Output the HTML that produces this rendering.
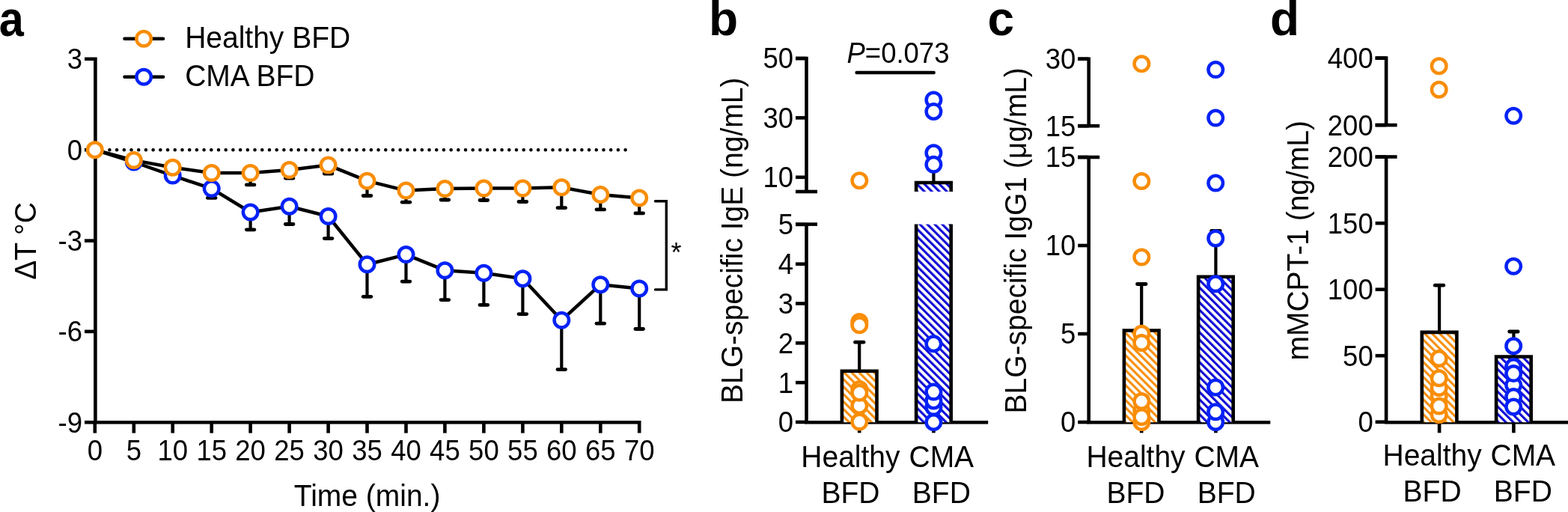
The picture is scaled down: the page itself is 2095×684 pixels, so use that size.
<!DOCTYPE html>
<html><head><meta charset="utf-8"><title>Figure</title>
<style>html,body{margin:0;padding:0;background:#fff;} svg{display:block;} text{font-family:"Liberation Sans",Arial,sans-serif;fill:#000;}</style>
</head><body>
<svg width="2095" height="684" viewBox="0 0 2095 684">
<defs>
<pattern id="ho" patternUnits="userSpaceOnUse" width="7.05" height="7.05" patternTransform="rotate(-45)">
<rect x="0" y="0" width="7.05" height="7.05" fill="#fff"/><rect x="0" y="0" width="3.1" height="7.05" fill="#f98d06"/></pattern>
<pattern id="hb" patternUnits="userSpaceOnUse" width="7.05" height="7.05" patternTransform="rotate(-45)">
<rect x="0" y="0" width="7.05" height="7.05" fill="#fff"/><rect x="0" y="0" width="3.1" height="7.05" fill="#0d07d6"/></pattern>
</defs>
<rect width="2095" height="684" fill="#fff"/>
<line x1="146.4" y1="200.2" x2="845.3" y2="200.2" stroke="#000" stroke-width="4.6" stroke-linecap="round" stroke-dasharray="0 9.707"/>
<path d="M113 78.8 H127.4 V564.2 H854.2 V578.6" fill="none" stroke="#000" stroke-width="4.6"/>
<line x1="113" y1="200.2" x2="127.4" y2="200.2" stroke="#000" stroke-width="4.6"/>
<line x1="113" y1="321.6" x2="127.4" y2="321.6" stroke="#000" stroke-width="4.6"/>
<line x1="113" y1="442.9" x2="127.4" y2="442.9" stroke="#000" stroke-width="4.6"/>
<line x1="113" y1="564.2" x2="127.4" y2="564.2" stroke="#000" stroke-width="4.6"/>
<line x1="126.8" y1="564.2" x2="126.8" y2="578.6" stroke="#000" stroke-width="4.6"/>
<line x1="178.8" y1="564.2" x2="178.8" y2="578.6" stroke="#000" stroke-width="4.6"/>
<line x1="230.7" y1="564.2" x2="230.7" y2="578.6" stroke="#000" stroke-width="4.6"/>
<line x1="282.7" y1="564.2" x2="282.7" y2="578.6" stroke="#000" stroke-width="4.6"/>
<line x1="334.6" y1="564.2" x2="334.6" y2="578.6" stroke="#000" stroke-width="4.6"/>
<line x1="386.6" y1="564.2" x2="386.6" y2="578.6" stroke="#000" stroke-width="4.6"/>
<line x1="438.6" y1="564.2" x2="438.6" y2="578.6" stroke="#000" stroke-width="4.6"/>
<line x1="490.5" y1="564.2" x2="490.5" y2="578.6" stroke="#000" stroke-width="4.6"/>
<line x1="542.5" y1="564.2" x2="542.5" y2="578.6" stroke="#000" stroke-width="4.6"/>
<line x1="594.4" y1="564.2" x2="594.4" y2="578.6" stroke="#000" stroke-width="4.6"/>
<line x1="646.4" y1="564.2" x2="646.4" y2="578.6" stroke="#000" stroke-width="4.6"/>
<line x1="698.4" y1="564.2" x2="698.4" y2="578.6" stroke="#000" stroke-width="4.6"/>
<line x1="750.3" y1="564.2" x2="750.3" y2="578.6" stroke="#000" stroke-width="4.6"/>
<line x1="802.3" y1="564.2" x2="802.3" y2="578.6" stroke="#000" stroke-width="4.6"/>
<text transform="translate(110.0 92.2) scale(1 1.04)" font-size="36.5" text-anchor="end" >3</text>
<text transform="translate(110.0 213.6) scale(1 1.04)" font-size="36.5" text-anchor="end" >0</text>
<text transform="translate(110.0 334.9) scale(1 1.04)" font-size="36.5" text-anchor="end" >-3</text>
<text transform="translate(110.0 456.3) scale(1 1.04)" font-size="36.5" text-anchor="end" >-6</text>
<text transform="translate(110.0 577.6) scale(1 1.04)" font-size="36.5" text-anchor="end" >-9</text>
<text transform="translate(126.8 614.8) scale(1 1.04)" font-size="36.5" text-anchor="middle" >0</text>
<text transform="translate(178.8 614.8) scale(1 1.04)" font-size="36.5" text-anchor="middle" >5</text>
<text transform="translate(230.7 614.8) scale(1 1.04)" font-size="36.5" text-anchor="middle" >10</text>
<text transform="translate(282.7 614.8) scale(1 1.04)" font-size="36.5" text-anchor="middle" >15</text>
<text transform="translate(334.6 614.8) scale(1 1.04)" font-size="36.5" text-anchor="middle" >20</text>
<text transform="translate(386.6 614.8) scale(1 1.04)" font-size="36.5" text-anchor="middle" >25</text>
<text transform="translate(438.6 614.8) scale(1 1.04)" font-size="36.5" text-anchor="middle" >30</text>
<text transform="translate(490.5 614.8) scale(1 1.04)" font-size="36.5" text-anchor="middle" >35</text>
<text transform="translate(542.5 614.8) scale(1 1.04)" font-size="36.5" text-anchor="middle" >40</text>
<text transform="translate(594.4 614.8) scale(1 1.04)" font-size="36.5" text-anchor="middle" >45</text>
<text transform="translate(646.4 614.8) scale(1 1.04)" font-size="36.5" text-anchor="middle" >50</text>
<text transform="translate(698.4 614.8) scale(1 1.04)" font-size="36.5" text-anchor="middle" >55</text>
<text transform="translate(750.3 614.8) scale(1 1.04)" font-size="36.5" text-anchor="middle" >60</text>
<text transform="translate(802.3 614.8) scale(1 1.04)" font-size="36.5" text-anchor="middle" >65</text>
<text transform="translate(854.2 614.8) scale(1 1.04)" font-size="36.5" text-anchor="middle" >70</text>
<line x1="282.7" y1="251.9" x2="282.7" y2="264.4" stroke="#000" stroke-width="4.2"/>
<line x1="277.4" y1="264.4" x2="288.0" y2="264.4" stroke="#000" stroke-width="4.8" stroke-linecap="round"/>
<line x1="334.6" y1="283.5" x2="334.6" y2="306.8" stroke="#000" stroke-width="4.2"/>
<line x1="329.3" y1="306.8" x2="339.9" y2="306.8" stroke="#000" stroke-width="4.8" stroke-linecap="round"/>
<line x1="386.6" y1="275.8" x2="386.6" y2="299.5" stroke="#000" stroke-width="4.2"/>
<line x1="381.3" y1="299.5" x2="391.9" y2="299.5" stroke="#000" stroke-width="4.8" stroke-linecap="round"/>
<line x1="438.6" y1="289.0" x2="438.6" y2="318.6" stroke="#000" stroke-width="4.2"/>
<line x1="433.3" y1="318.6" x2="443.9" y2="318.6" stroke="#000" stroke-width="4.8" stroke-linecap="round"/>
<line x1="490.5" y1="353.3" x2="490.5" y2="396.3" stroke="#000" stroke-width="4.2"/>
<line x1="485.2" y1="396.3" x2="495.8" y2="396.3" stroke="#000" stroke-width="4.8" stroke-linecap="round"/>
<line x1="542.5" y1="340.1" x2="542.5" y2="376.1" stroke="#000" stroke-width="4.2"/>
<line x1="537.2" y1="376.1" x2="547.8" y2="376.1" stroke="#000" stroke-width="4.8" stroke-linecap="round"/>
<line x1="594.4" y1="361.2" x2="594.4" y2="400.6" stroke="#000" stroke-width="4.2"/>
<line x1="589.1" y1="400.6" x2="599.7" y2="400.6" stroke="#000" stroke-width="4.8" stroke-linecap="round"/>
<line x1="646.4" y1="364.7" x2="646.4" y2="407.4" stroke="#000" stroke-width="4.2"/>
<line x1="641.1" y1="407.4" x2="651.7" y2="407.4" stroke="#000" stroke-width="4.8" stroke-linecap="round"/>
<line x1="698.4" y1="372.3" x2="698.4" y2="419.6" stroke="#000" stroke-width="4.2"/>
<line x1="693.1" y1="419.6" x2="703.7" y2="419.6" stroke="#000" stroke-width="4.8" stroke-linecap="round"/>
<line x1="750.3" y1="427.8" x2="750.3" y2="493.6" stroke="#000" stroke-width="4.2"/>
<line x1="745.0" y1="493.6" x2="755.6" y2="493.6" stroke="#000" stroke-width="4.8" stroke-linecap="round"/>
<line x1="802.3" y1="380.2" x2="802.3" y2="432.2" stroke="#000" stroke-width="4.2"/>
<line x1="797.0" y1="432.2" x2="807.6" y2="432.2" stroke="#000" stroke-width="4.8" stroke-linecap="round"/>
<line x1="854.2" y1="385.4" x2="854.2" y2="439.5" stroke="#000" stroke-width="4.2"/>
<line x1="848.9" y1="439.5" x2="859.5" y2="439.5" stroke="#000" stroke-width="4.8" stroke-linecap="round"/>
<line x1="334.6" y1="231.1" x2="334.6" y2="246.9" stroke="#000" stroke-width="4.2"/>
<line x1="329.3" y1="246.9" x2="339.9" y2="246.9" stroke="#000" stroke-width="4.8" stroke-linecap="round"/>
<line x1="386.6" y1="227.1" x2="386.6" y2="238.1" stroke="#000" stroke-width="4.2"/>
<line x1="381.3" y1="238.1" x2="391.9" y2="238.1" stroke="#000" stroke-width="4.8" stroke-linecap="round"/>
<line x1="438.6" y1="220.6" x2="438.6" y2="232.0" stroke="#000" stroke-width="4.2"/>
<line x1="433.3" y1="232.0" x2="443.9" y2="232.0" stroke="#000" stroke-width="4.8" stroke-linecap="round"/>
<line x1="490.5" y1="241.7" x2="490.5" y2="261.5" stroke="#000" stroke-width="4.2"/>
<line x1="485.2" y1="261.5" x2="495.8" y2="261.5" stroke="#000" stroke-width="4.8" stroke-linecap="round"/>
<line x1="542.5" y1="254.6" x2="542.5" y2="270.2" stroke="#000" stroke-width="4.2"/>
<line x1="537.2" y1="270.2" x2="547.8" y2="270.2" stroke="#000" stroke-width="4.8" stroke-linecap="round"/>
<line x1="594.4" y1="252.1" x2="594.4" y2="267.0" stroke="#000" stroke-width="4.2"/>
<line x1="589.1" y1="267.0" x2="599.7" y2="267.0" stroke="#000" stroke-width="4.8" stroke-linecap="round"/>
<line x1="646.4" y1="251.6" x2="646.4" y2="267.5" stroke="#000" stroke-width="4.2"/>
<line x1="641.1" y1="267.5" x2="651.7" y2="267.5" stroke="#000" stroke-width="4.8" stroke-linecap="round"/>
<line x1="698.4" y1="251.6" x2="698.4" y2="269.5" stroke="#000" stroke-width="4.2"/>
<line x1="693.1" y1="269.5" x2="703.7" y2="269.5" stroke="#000" stroke-width="4.8" stroke-linecap="round"/>
<line x1="750.3" y1="250.3" x2="750.3" y2="277.7" stroke="#000" stroke-width="4.2"/>
<line x1="745.0" y1="277.7" x2="755.6" y2="277.7" stroke="#000" stroke-width="4.8" stroke-linecap="round"/>
<line x1="802.3" y1="260.0" x2="802.3" y2="279.9" stroke="#000" stroke-width="4.2"/>
<line x1="797.0" y1="279.9" x2="807.6" y2="279.9" stroke="#000" stroke-width="4.8" stroke-linecap="round"/>
<line x1="854.2" y1="264.5" x2="854.2" y2="284.9" stroke="#000" stroke-width="4.2"/>
<line x1="848.9" y1="284.9" x2="859.5" y2="284.9" stroke="#000" stroke-width="4.8" stroke-linecap="round"/>
<polyline points="126.8,200.2 178.8,216.5 230.7,234.6 282.7,251.9 334.6,283.5 386.6,275.8 438.6,289.0 490.5,353.3 542.5,340.1 594.4,361.2 646.4,364.7 698.4,372.3 750.3,427.8 802.3,380.2 854.2,385.4" fill="none" stroke="#000" stroke-width="4.5" stroke-linejoin="round"/>
<polyline points="126.8,200.2 178.8,214.1 230.7,223.7 282.7,231.1 334.6,231.1 386.6,227.1 438.6,220.6 490.5,241.7 542.5,254.6 594.4,252.1 646.4,251.6 698.4,251.6 750.3,250.3 802.3,260.0 854.2,264.5" fill="none" stroke="#000" stroke-width="4.5" stroke-linejoin="round"/>
<circle cx="178.8" cy="216.5" r="9.75" fill="#fff" stroke="#0522f7" stroke-width="4.5"/>
<circle cx="230.7" cy="234.6" r="9.75" fill="#fff" stroke="#0522f7" stroke-width="4.5"/>
<circle cx="282.7" cy="251.9" r="9.75" fill="#fff" stroke="#0522f7" stroke-width="4.5"/>
<circle cx="334.6" cy="283.5" r="9.75" fill="#fff" stroke="#0522f7" stroke-width="4.5"/>
<circle cx="386.6" cy="275.8" r="9.75" fill="#fff" stroke="#0522f7" stroke-width="4.5"/>
<circle cx="438.6" cy="289.0" r="9.75" fill="#fff" stroke="#0522f7" stroke-width="4.5"/>
<circle cx="490.5" cy="353.3" r="9.75" fill="#fff" stroke="#0522f7" stroke-width="4.5"/>
<circle cx="542.5" cy="340.1" r="9.75" fill="#fff" stroke="#0522f7" stroke-width="4.5"/>
<circle cx="594.4" cy="361.2" r="9.75" fill="#fff" stroke="#0522f7" stroke-width="4.5"/>
<circle cx="646.4" cy="364.7" r="9.75" fill="#fff" stroke="#0522f7" stroke-width="4.5"/>
<circle cx="698.4" cy="372.3" r="9.75" fill="#fff" stroke="#0522f7" stroke-width="4.5"/>
<circle cx="750.3" cy="427.8" r="9.75" fill="#fff" stroke="#0522f7" stroke-width="4.5"/>
<circle cx="802.3" cy="380.2" r="9.75" fill="#fff" stroke="#0522f7" stroke-width="4.5"/>
<circle cx="854.2" cy="385.4" r="9.75" fill="#fff" stroke="#0522f7" stroke-width="4.5"/>
<circle cx="126.8" cy="200.2" r="9.75" fill="#fff" stroke="#f98d06" stroke-width="4.5"/>
<circle cx="178.8" cy="214.1" r="9.75" fill="#fff" stroke="#f98d06" stroke-width="4.5"/>
<circle cx="230.7" cy="223.7" r="9.75" fill="#fff" stroke="#f98d06" stroke-width="4.5"/>
<circle cx="282.7" cy="231.1" r="9.75" fill="#fff" stroke="#f98d06" stroke-width="4.5"/>
<circle cx="334.6" cy="231.1" r="9.75" fill="#fff" stroke="#f98d06" stroke-width="4.5"/>
<circle cx="386.6" cy="227.1" r="9.75" fill="#fff" stroke="#f98d06" stroke-width="4.5"/>
<circle cx="438.6" cy="220.6" r="9.75" fill="#fff" stroke="#f98d06" stroke-width="4.5"/>
<circle cx="490.5" cy="241.7" r="9.75" fill="#fff" stroke="#f98d06" stroke-width="4.5"/>
<circle cx="542.5" cy="254.6" r="9.75" fill="#fff" stroke="#f98d06" stroke-width="4.5"/>
<circle cx="594.4" cy="252.1" r="9.75" fill="#fff" stroke="#f98d06" stroke-width="4.5"/>
<circle cx="646.4" cy="251.6" r="9.75" fill="#fff" stroke="#f98d06" stroke-width="4.5"/>
<circle cx="698.4" cy="251.6" r="9.75" fill="#fff" stroke="#f98d06" stroke-width="4.5"/>
<circle cx="750.3" cy="250.3" r="9.75" fill="#fff" stroke="#f98d06" stroke-width="4.5"/>
<circle cx="802.3" cy="260.0" r="9.75" fill="#fff" stroke="#f98d06" stroke-width="4.5"/>
<circle cx="854.2" cy="264.5" r="9.75" fill="#fff" stroke="#f98d06" stroke-width="4.5"/>
<path d="M875.5 268.8 H890.3 V386.9 H875.5" fill="none" stroke="#000" stroke-width="3.4" stroke-linecap="round"/>
<text transform="translate(896.5 350.0) scale(1 1.04)" font-size="36" text-anchor="start" >*</text>
<line x1="166.5" y1="51.7" x2="218" y2="51.7" stroke="#000" stroke-width="4.6" stroke-linecap="round"/>
<circle cx="192.1" cy="51.7" r="9.75" fill="#fff" stroke="#f98d06" stroke-width="4.5"/>
<text transform="translate(247.2 63.9) scale(1 1.04)" font-size="39" text-anchor="start" >Healthy BFD</text>
<line x1="166.5" y1="102.8" x2="218" y2="102.8" stroke="#000" stroke-width="4.6" stroke-linecap="round"/>
<circle cx="192.1" cy="102.8" r="9.75" fill="#fff" stroke="#0522f7" stroke-width="4.5"/>
<text transform="translate(247.2 115.0) scale(1 1.04)" font-size="39" text-anchor="start" >CMA BFD</text>
<text transform="translate(48.3 322) rotate(-90) scale(1 1.04)" font-size="39" text-anchor="middle">ΔT °C</text>
<text transform="translate(490.6 675.5) scale(1 1.04)" font-size="39" text-anchor="middle" >Time (min.)</text>
<text transform="translate(-1.2 47.6) scale(0.9 1)" font-size="66" font-weight="bold">a</text>
<text x="947" y="47.2" font-size="64" font-weight="bold">b</text>
<text x="1319.5" y="47.2" font-size="64" font-weight="bold">c</text>
<text x="1697" y="47.2" font-size="64" font-weight="bold">d</text>
<path d="M1063.0 78.0 H1077.5 V256.0" fill="none" stroke="#000" stroke-width="4.6"/>
<line x1="1063.0" y1="256.0" x2="1092.0" y2="256.0" stroke="#000" stroke-width="4.6"/>
<line x1="1063.0" y1="299.6" x2="1092.0" y2="299.6" stroke="#000" stroke-width="4.6"/>
<path d="M1077.5 299.6 V564.2 H1320.2" fill="none" stroke="#000" stroke-width="4.6"/>
<line x1="1063.0" y1="78.0" x2="1077.5" y2="78.0" stroke="#000" stroke-width="4.6"/>
<text transform="translate(1060.1 91.4) scale(1 1.04)" font-size="36.5" text-anchor="end" >50</text>
<line x1="1063.0" y1="157.4" x2="1077.5" y2="157.4" stroke="#000" stroke-width="4.6"/>
<text transform="translate(1060.1 170.8) scale(1 1.04)" font-size="36.5" text-anchor="end" >30</text>
<line x1="1063.0" y1="236.8" x2="1077.5" y2="236.8" stroke="#000" stroke-width="4.6"/>
<text transform="translate(1060.1 250.2) scale(1 1.04)" font-size="36.5" text-anchor="end" >10</text>
<line x1="1063.0" y1="299.9" x2="1077.5" y2="299.9" stroke="#000" stroke-width="4.6"/>
<text transform="translate(1060.1 313.3) scale(1 1.04)" font-size="36.5" text-anchor="end" >5</text>
<line x1="1063.0" y1="352.7" x2="1077.5" y2="352.7" stroke="#000" stroke-width="4.6"/>
<text transform="translate(1060.1 366.1) scale(1 1.04)" font-size="36.5" text-anchor="end" >4</text>
<line x1="1063.0" y1="405.5" x2="1077.5" y2="405.5" stroke="#000" stroke-width="4.6"/>
<text transform="translate(1060.1 418.9) scale(1 1.04)" font-size="36.5" text-anchor="end" >3</text>
<line x1="1063.0" y1="458.3" x2="1077.5" y2="458.3" stroke="#000" stroke-width="4.6"/>
<text transform="translate(1060.1 471.7) scale(1 1.04)" font-size="36.5" text-anchor="end" >2</text>
<line x1="1063.0" y1="511.1" x2="1077.5" y2="511.1" stroke="#000" stroke-width="4.6"/>
<text transform="translate(1060.1 524.5) scale(1 1.04)" font-size="36.5" text-anchor="end" >1</text>
<line x1="1063.0" y1="563.9" x2="1077.5" y2="563.9" stroke="#000" stroke-width="4.6"/>
<text transform="translate(1060.1 577.3) scale(1 1.04)" font-size="36.5" text-anchor="end" >0</text>
<line x1="1148.2" y1="564.2" x2="1148.2" y2="578.3" stroke="#000" stroke-width="4.6"/>
<rect x="1124.9" y="495.8" width="46.6" height="68.4" fill="url(#ho)"/>
<path d="M1124.9 564.2 V495.8 H1171.5 V564.2" fill="none" stroke="#000" stroke-width="4.6"/>
<line x1="1148.2" y1="495.8" x2="1148.2" y2="457.2" stroke="#000" stroke-width="4.2"/>
<line x1="1142.5" y1="457.2" x2="1154.0" y2="457.2" stroke="#000" stroke-width="4.8" stroke-linecap="round"/>
<line x1="1247.4" y1="564.2" x2="1247.4" y2="578.3" stroke="#000" stroke-width="4.6"/>
<rect x="1224.1" y="244.0" width="46.6" height="12.0" fill="url(#hb)"/>
<path d="M1224.1 256.0 V244.0 H1270.7 V256.0" fill="none" stroke="#000" stroke-width="4.6"/>
<rect x="1224.1" y="299.6" width="46.6" height="264.6" fill="url(#hb)"/>
<path d="M1224.1 299.6 V564.2" fill="none" stroke="#000" stroke-width="4.6"/>
<path d="M1270.7 299.6 V564.2" fill="none" stroke="#000" stroke-width="4.6"/>
<line x1="1247.4" y1="244.0" x2="1247.4" y2="226.0" stroke="#000" stroke-width="4.2"/>
<line x1="1241.7" y1="226.0" x2="1253.2" y2="226.0" stroke="#000" stroke-width="4.8" stroke-linecap="round"/>
<circle cx="1148.3" cy="241.2" r="9.75" fill="#fff" stroke="#f98d06" stroke-width="4.5"/>
<circle cx="1148.3" cy="430.0" r="9.75" fill="#fff" stroke="#f98d06" stroke-width="4.5"/>
<circle cx="1148.3" cy="434.2" r="9.75" fill="#fff" stroke="#f98d06" stroke-width="4.5"/>
<circle cx="1148.3" cy="563.6" r="9.75" fill="#fff" stroke="#f98d06" stroke-width="4.5"/>
<circle cx="1148.3" cy="542.0" r="9.75" fill="#fff" stroke="#f98d06" stroke-width="4.5"/>
<circle cx="1148.3" cy="520.0" r="9.75" fill="#fff" stroke="#f98d06" stroke-width="4.5"/>
<circle cx="1148.3" cy="524.7" r="9.75" fill="#fff" stroke="#f98d06" stroke-width="4.5"/>
<circle cx="1247.4" cy="564.0" r="9.75" fill="#fff" stroke="#0522f7" stroke-width="4.5"/>
<circle cx="1247.4" cy="544.1" r="9.75" fill="#fff" stroke="#0522f7" stroke-width="4.5"/>
<circle cx="1247.4" cy="535.4" r="9.75" fill="#fff" stroke="#0522f7" stroke-width="4.5"/>
<circle cx="1247.4" cy="523.6" r="9.75" fill="#fff" stroke="#0522f7" stroke-width="4.5"/>
<circle cx="1247.4" cy="459.3" r="9.75" fill="#fff" stroke="#0522f7" stroke-width="4.5"/>
<circle cx="1247.4" cy="204.2" r="9.75" fill="#fff" stroke="#0522f7" stroke-width="4.5"/>
<circle cx="1247.4" cy="219.8" r="9.75" fill="#fff" stroke="#0522f7" stroke-width="4.5"/>
<circle cx="1247.4" cy="133.4" r="9.75" fill="#fff" stroke="#0522f7" stroke-width="4.5"/>
<circle cx="1247.4" cy="148.9" r="9.75" fill="#fff" stroke="#0522f7" stroke-width="4.5"/>
<text transform="translate(991.6 321.3) rotate(-90) scale(1 1.04)" font-size="39" text-anchor="middle">BLG-specific IgE (ng/mL)</text>
<text transform="translate(1136.4 623.6) scale(1 1.04)" font-size="39" text-anchor="middle" >Healthy</text>
<text transform="translate(1136.4 672.0) scale(1 1.04)" font-size="39" text-anchor="middle" >BFD</text>
<text transform="translate(1257.8 623.6) scale(1 1.04)" font-size="39" text-anchor="middle" >CMA</text>
<text transform="translate(1257.8 672.0) scale(1 1.04)" font-size="39" text-anchor="middle" >BFD</text>
<text transform="translate(1131.5 83.6) scale(1 1.04)" font-size="36.5"><tspan font-style="italic">P</tspan>=0.073</text>
<line x1="1144.6" y1="97" x2="1247.7" y2="97" stroke="#000" stroke-width="4.4" stroke-linecap="round"/>
<path d="M1440.2 78.7 H1454.7 V168.2" fill="none" stroke="#000" stroke-width="4.6"/>
<line x1="1440.2" y1="168.2" x2="1469.2" y2="168.2" stroke="#000" stroke-width="4.6"/>
<line x1="1440.2" y1="210.0" x2="1469.2" y2="210.0" stroke="#000" stroke-width="4.6"/>
<path d="M1454.7 210.0 V564.2 H1697.3" fill="none" stroke="#000" stroke-width="4.6"/>
<line x1="1440.2" y1="78.7" x2="1454.7" y2="78.7" stroke="#000" stroke-width="4.6"/>
<text transform="translate(1437.3 92.1) scale(1 1.04)" font-size="36.5" text-anchor="end" >30</text>
<line x1="1440.2" y1="168.2" x2="1454.7" y2="168.2" stroke="#000" stroke-width="4.6"/>
<text transform="translate(1437.3 181.6) scale(1 1.04)" font-size="36.5" text-anchor="end" >15</text>
<line x1="1440.2" y1="210.0" x2="1454.7" y2="210.0" stroke="#000" stroke-width="4.6"/>
<text transform="translate(1437.3 223.4) scale(1 1.04)" font-size="36.5" text-anchor="end" >15</text>
<line x1="1440.2" y1="328.0" x2="1454.7" y2="328.0" stroke="#000" stroke-width="4.6"/>
<text transform="translate(1437.3 341.4) scale(1 1.04)" font-size="36.5" text-anchor="end" >10</text>
<line x1="1440.2" y1="446.0" x2="1454.7" y2="446.0" stroke="#000" stroke-width="4.6"/>
<text transform="translate(1437.3 459.4) scale(1 1.04)" font-size="36.5" text-anchor="end" >5</text>
<line x1="1440.2" y1="564.0" x2="1454.7" y2="564.0" stroke="#000" stroke-width="4.6"/>
<text transform="translate(1437.3 577.4) scale(1 1.04)" font-size="36.5" text-anchor="end" >0</text>
<line x1="1525.2" y1="564.2" x2="1525.2" y2="578.3" stroke="#000" stroke-width="4.6"/>
<rect x="1501.9" y="441.5" width="46.6" height="122.7" fill="url(#ho)"/>
<path d="M1501.9 564.2 V441.5 H1548.5 V564.2" fill="none" stroke="#000" stroke-width="4.6"/>
<line x1="1525.2" y1="441.5" x2="1525.2" y2="379.5" stroke="#000" stroke-width="4.2"/>
<line x1="1519.5" y1="379.5" x2="1531.0" y2="379.5" stroke="#000" stroke-width="4.8" stroke-linecap="round"/>
<line x1="1624.4" y1="564.2" x2="1624.4" y2="578.3" stroke="#000" stroke-width="4.6"/>
<rect x="1601.1" y="369.8" width="46.6" height="194.4" fill="url(#hb)"/>
<path d="M1601.1 564.2 V369.8 H1647.7 V564.2" fill="none" stroke="#000" stroke-width="4.6"/>
<line x1="1624.4" y1="369.8" x2="1624.4" y2="308.3" stroke="#000" stroke-width="4.2"/>
<line x1="1618.7" y1="308.3" x2="1630.2" y2="308.3" stroke="#000" stroke-width="4.8" stroke-linecap="round"/>
<circle cx="1525.3" cy="85.2" r="9.75" fill="#fff" stroke="#f98d06" stroke-width="4.5"/>
<circle cx="1525.3" cy="242.0" r="9.75" fill="#fff" stroke="#f98d06" stroke-width="4.5"/>
<circle cx="1525.3" cy="343.6" r="9.75" fill="#fff" stroke="#f98d06" stroke-width="4.5"/>
<circle cx="1525.3" cy="445.7" r="9.75" fill="#fff" stroke="#f98d06" stroke-width="4.5"/>
<circle cx="1525.3" cy="457.9" r="9.75" fill="#fff" stroke="#f98d06" stroke-width="4.5"/>
<circle cx="1525.3" cy="564.0" r="9.75" fill="#fff" stroke="#f98d06" stroke-width="4.5"/>
<circle cx="1525.3" cy="549.0" r="9.75" fill="#fff" stroke="#f98d06" stroke-width="4.5"/>
<circle cx="1525.3" cy="557.0" r="9.75" fill="#fff" stroke="#f98d06" stroke-width="4.5"/>
<circle cx="1525.3" cy="536.0" r="9.75" fill="#fff" stroke="#f98d06" stroke-width="4.5"/>
<circle cx="1624.2" cy="93.1" r="9.75" fill="#fff" stroke="#0522f7" stroke-width="4.5"/>
<circle cx="1624.2" cy="157.6" r="9.75" fill="#fff" stroke="#0522f7" stroke-width="4.5"/>
<circle cx="1624.2" cy="244.6" r="9.75" fill="#fff" stroke="#0522f7" stroke-width="4.5"/>
<circle cx="1624.2" cy="318.4" r="9.75" fill="#fff" stroke="#0522f7" stroke-width="4.5"/>
<circle cx="1624.2" cy="379.2" r="9.75" fill="#fff" stroke="#0522f7" stroke-width="4.5"/>
<circle cx="1624.2" cy="564.0" r="9.75" fill="#fff" stroke="#0522f7" stroke-width="4.5"/>
<circle cx="1624.2" cy="550.3" r="9.75" fill="#fff" stroke="#0522f7" stroke-width="4.5"/>
<circle cx="1624.2" cy="517.4" r="9.75" fill="#fff" stroke="#0522f7" stroke-width="4.5"/>
<text transform="translate(1371.0 321.3) rotate(-90) scale(1 1.04)" font-size="39" text-anchor="middle">BLG-specific IgG1 (μg/mL)</text>
<text transform="translate(1517.5 623.6) scale(1 1.04)" font-size="39" text-anchor="middle" >Healthy</text>
<text transform="translate(1517.5 672.0) scale(1 1.04)" font-size="39" text-anchor="middle" >BFD</text>
<text transform="translate(1638.7 623.6) scale(1 1.04)" font-size="39" text-anchor="middle" >CMA</text>
<text transform="translate(1638.7 672.0) scale(1 1.04)" font-size="39" text-anchor="middle" >BFD</text>
<path d="M1837.6 77.6 H1852.1 V167.1" fill="none" stroke="#000" stroke-width="4.6"/>
<line x1="1837.6" y1="167.1" x2="1866.6" y2="167.1" stroke="#000" stroke-width="4.6"/>
<line x1="1837.6" y1="209.5" x2="1866.6" y2="209.5" stroke="#000" stroke-width="4.6"/>
<path d="M1852.1 209.5 V564.2 H2100.0" fill="none" stroke="#000" stroke-width="4.6"/>
<line x1="1837.6" y1="77.6" x2="1852.1" y2="77.6" stroke="#000" stroke-width="4.6"/>
<text transform="translate(1834.7 91.0) scale(1 1.04)" font-size="36.5" text-anchor="end" >400</text>
<line x1="1837.6" y1="167.1" x2="1852.1" y2="167.1" stroke="#000" stroke-width="4.6"/>
<text transform="translate(1834.7 180.5) scale(1 1.04)" font-size="36.5" text-anchor="end" >200</text>
<line x1="1837.6" y1="209.7" x2="1852.1" y2="209.7" stroke="#000" stroke-width="4.6"/>
<text transform="translate(1834.7 223.1) scale(1 1.04)" font-size="36.5" text-anchor="end" >200</text>
<line x1="1837.6" y1="298.2" x2="1852.1" y2="298.2" stroke="#000" stroke-width="4.6"/>
<text transform="translate(1834.7 311.6) scale(1 1.04)" font-size="36.5" text-anchor="end" >150</text>
<line x1="1837.6" y1="386.7" x2="1852.1" y2="386.7" stroke="#000" stroke-width="4.6"/>
<text transform="translate(1834.7 400.1) scale(1 1.04)" font-size="36.5" text-anchor="end" >100</text>
<line x1="1837.6" y1="475.2" x2="1852.1" y2="475.2" stroke="#000" stroke-width="4.6"/>
<text transform="translate(1834.7 488.6) scale(1 1.04)" font-size="36.5" text-anchor="end" >50</text>
<line x1="1837.6" y1="563.7" x2="1852.1" y2="563.7" stroke="#000" stroke-width="4.6"/>
<text transform="translate(1834.7 577.1) scale(1 1.04)" font-size="36.5" text-anchor="end" >0</text>
<line x1="1923.1" y1="564.2" x2="1923.1" y2="578.3" stroke="#000" stroke-width="4.6"/>
<rect x="1899.8" y="443.9" width="46.6" height="120.3" fill="url(#ho)"/>
<path d="M1899.8 564.2 V443.9 H1946.4 V564.2" fill="none" stroke="#000" stroke-width="4.6"/>
<line x1="1923.1" y1="443.9" x2="1923.1" y2="381.2" stroke="#000" stroke-width="4.2"/>
<line x1="1917.3" y1="381.2" x2="1928.8" y2="381.2" stroke="#000" stroke-width="4.8" stroke-linecap="round"/>
<line x1="2022.4" y1="564.2" x2="2022.4" y2="578.3" stroke="#000" stroke-width="4.6"/>
<rect x="1999.1" y="476.5" width="46.6" height="87.7" fill="url(#hb)"/>
<path d="M1999.1 564.2 V476.5 H2045.7 V564.2" fill="none" stroke="#000" stroke-width="4.6"/>
<line x1="2022.4" y1="476.5" x2="2022.4" y2="443.0" stroke="#000" stroke-width="4.2"/>
<line x1="2016.7" y1="443.0" x2="2028.2" y2="443.0" stroke="#000" stroke-width="4.8" stroke-linecap="round"/>
<circle cx="1922.7" cy="88.3" r="9.75" fill="#fff" stroke="#f98d06" stroke-width="4.5"/>
<circle cx="1922.7" cy="119.7" r="9.75" fill="#fff" stroke="#f98d06" stroke-width="4.5"/>
<circle cx="1922.7" cy="554.0" r="9.75" fill="#fff" stroke="#f98d06" stroke-width="4.5"/>
<circle cx="1922.7" cy="528.5" r="9.75" fill="#fff" stroke="#f98d06" stroke-width="4.5"/>
<circle cx="1922.7" cy="518.0" r="9.75" fill="#fff" stroke="#f98d06" stroke-width="4.5"/>
<circle cx="1922.7" cy="542.6" r="9.75" fill="#fff" stroke="#f98d06" stroke-width="4.5"/>
<circle cx="1922.7" cy="505.3" r="9.75" fill="#fff" stroke="#f98d06" stroke-width="4.5"/>
<circle cx="1922.7" cy="479.0" r="9.75" fill="#fff" stroke="#f98d06" stroke-width="4.5"/>
<circle cx="2022.2" cy="154.7" r="9.75" fill="#fff" stroke="#0522f7" stroke-width="4.5"/>
<circle cx="2022.2" cy="355.7" r="9.75" fill="#fff" stroke="#0522f7" stroke-width="4.5"/>
<circle cx="2022.2" cy="462.3" r="9.75" fill="#fff" stroke="#0522f7" stroke-width="4.5"/>
<circle cx="2022.2" cy="490.0" r="9.75" fill="#fff" stroke="#0522f7" stroke-width="4.5"/>
<circle cx="2022.2" cy="514.5" r="9.75" fill="#fff" stroke="#0522f7" stroke-width="4.5"/>
<circle cx="2022.2" cy="499.1" r="9.75" fill="#fff" stroke="#0522f7" stroke-width="4.5"/>
<circle cx="2022.2" cy="530.0" r="9.75" fill="#fff" stroke="#0522f7" stroke-width="4.5"/>
<circle cx="2022.2" cy="543.5" r="9.75" fill="#fff" stroke="#0522f7" stroke-width="4.5"/>
<text transform="translate(1748.4 321.3) rotate(-90) scale(1 1.04)" font-size="39" text-anchor="middle">mMCPT-1 (ng/mL)</text>
<text transform="translate(1913.6 622.0) scale(1 1.04)" font-size="39" text-anchor="middle" >Healthy</text>
<text transform="translate(1913.6 670.4) scale(1 1.04)" font-size="39" text-anchor="middle" >BFD</text>
<text transform="translate(2034.8 622.0) scale(1 1.04)" font-size="39" text-anchor="middle" >CMA</text>
<text transform="translate(2034.8 670.4) scale(1 1.04)" font-size="39" text-anchor="middle" >BFD</text>
</svg>
</body></html>
